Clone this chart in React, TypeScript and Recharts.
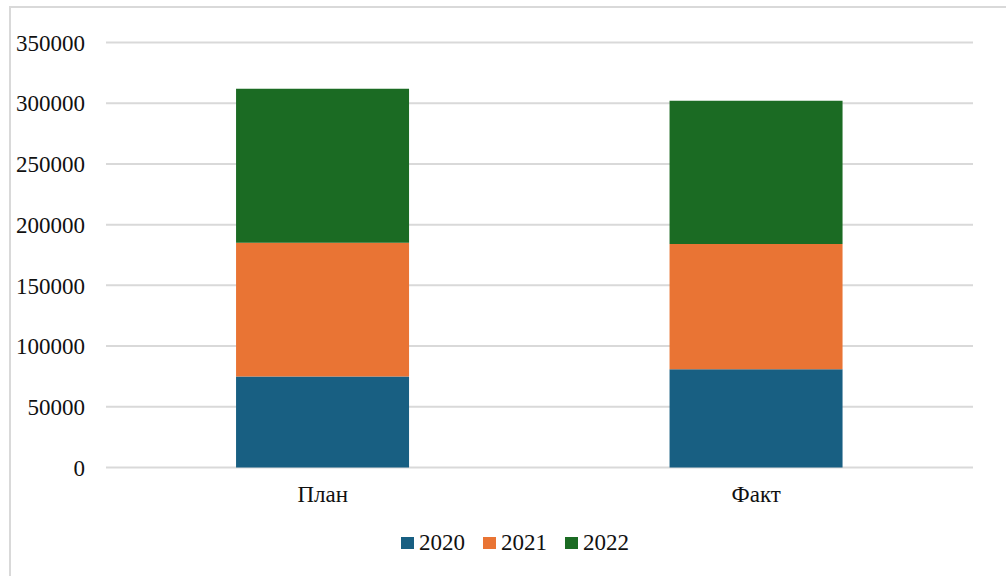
import React from 'react';
import { BarChart, Bar, XAxis, YAxis, CartesianGrid, Legend } from 'recharts';

const categories = ['План', 'Факт'];
const series2020 = [75000, 81000];
const series2021 = [110000, 103000];
const series2022 = [127000, 118000];
const yTicks = [0, 50000, 100000, 150000, 200000, 250000, 300000, 350000];

const seriesMeta = [
  { key: '2020', color: '#185f82' },
  { key: '2021', color: '#e97434' },
  { key: '2022', color: '#1b6b23' }
];

const data = categories.map((name, i) => ({
  name,
  '2020': series2020[i],
  '2021': series2021[i],
  '2022': series2022[i]
}));

const FONT = '"Liberation Serif", "Times New Roman", serif';

const LegendContent = (props: any) => {
  const items = props.payload || [];
  return (
    <div style={{ display: 'flex', justifyContent: 'center', fontFamily: FONT, fontSize: 23, color: '#111' }}>
      {items.map((it: any) => (
        <div key={it.value} style={{ display: 'flex', alignItems: 'center', marginRight: 18 }}>
          <span style={{ width: 13, height: 12, background: it.color, display: 'inline-block', marginRight: 5 }} />
          <span>{it.value}</span>
        </div>
      ))}
    </div>
  );
};

export default function App() {
  return (
    <div style={{ position: 'fixed', left: 0, top: 0, width: 1006, height: 576, background: '#fff', overflow: 'hidden' }}>
      <div
        style={{
          position: 'absolute',
          left: 9,
          top: 6,
          right: -10,
          bottom: -10,
          borderLeft: '2px solid #d9d9d9',
          borderTop: '2px solid #d9d9d9'
        }}
      />
      <BarChart
        width={1006}
        height={576}
        data={data}
        margin={{ top: 42.5, right: 33, bottom: 78.5, left: 0 }}
        barCategoryGap="30%"
        style={{ position: 'absolute', left: 0, top: 0 }}
      >
        <CartesianGrid vertical={false} stroke="#d9d9d9" strokeWidth={2} />
        <XAxis
          dataKey="name"
          axisLine={false}
          tickLine={false}
          tickSize={0}
          tickMargin={18}
          tick={{ fill: '#111', fontSize: 23, fontFamily: FONT }}
        />
        <YAxis
          width={106}
          domain={[0, 350000]}
          ticks={yTicks}
          interval={0}
          axisLine={false}
          tickLine={false}
          tickSize={0}
          tickMargin={21}
          tick={{ fill: '#111', fontSize: 23, fontFamily: FONT }}
        />
        <Legend
          verticalAlign="middle"
          align="center"
          content={<LegendContent />}
          wrapperStyle={{ left: 21, width: 1006, top: 530, bottom: 'auto' }}
        />
        {seriesMeta.map((s) => (
          <Bar key={s.key} dataKey={s.key} stackId="a" fill={s.color} isAnimationActive={false} />
        ))}
      </BarChart>
    </div>
  );
}
